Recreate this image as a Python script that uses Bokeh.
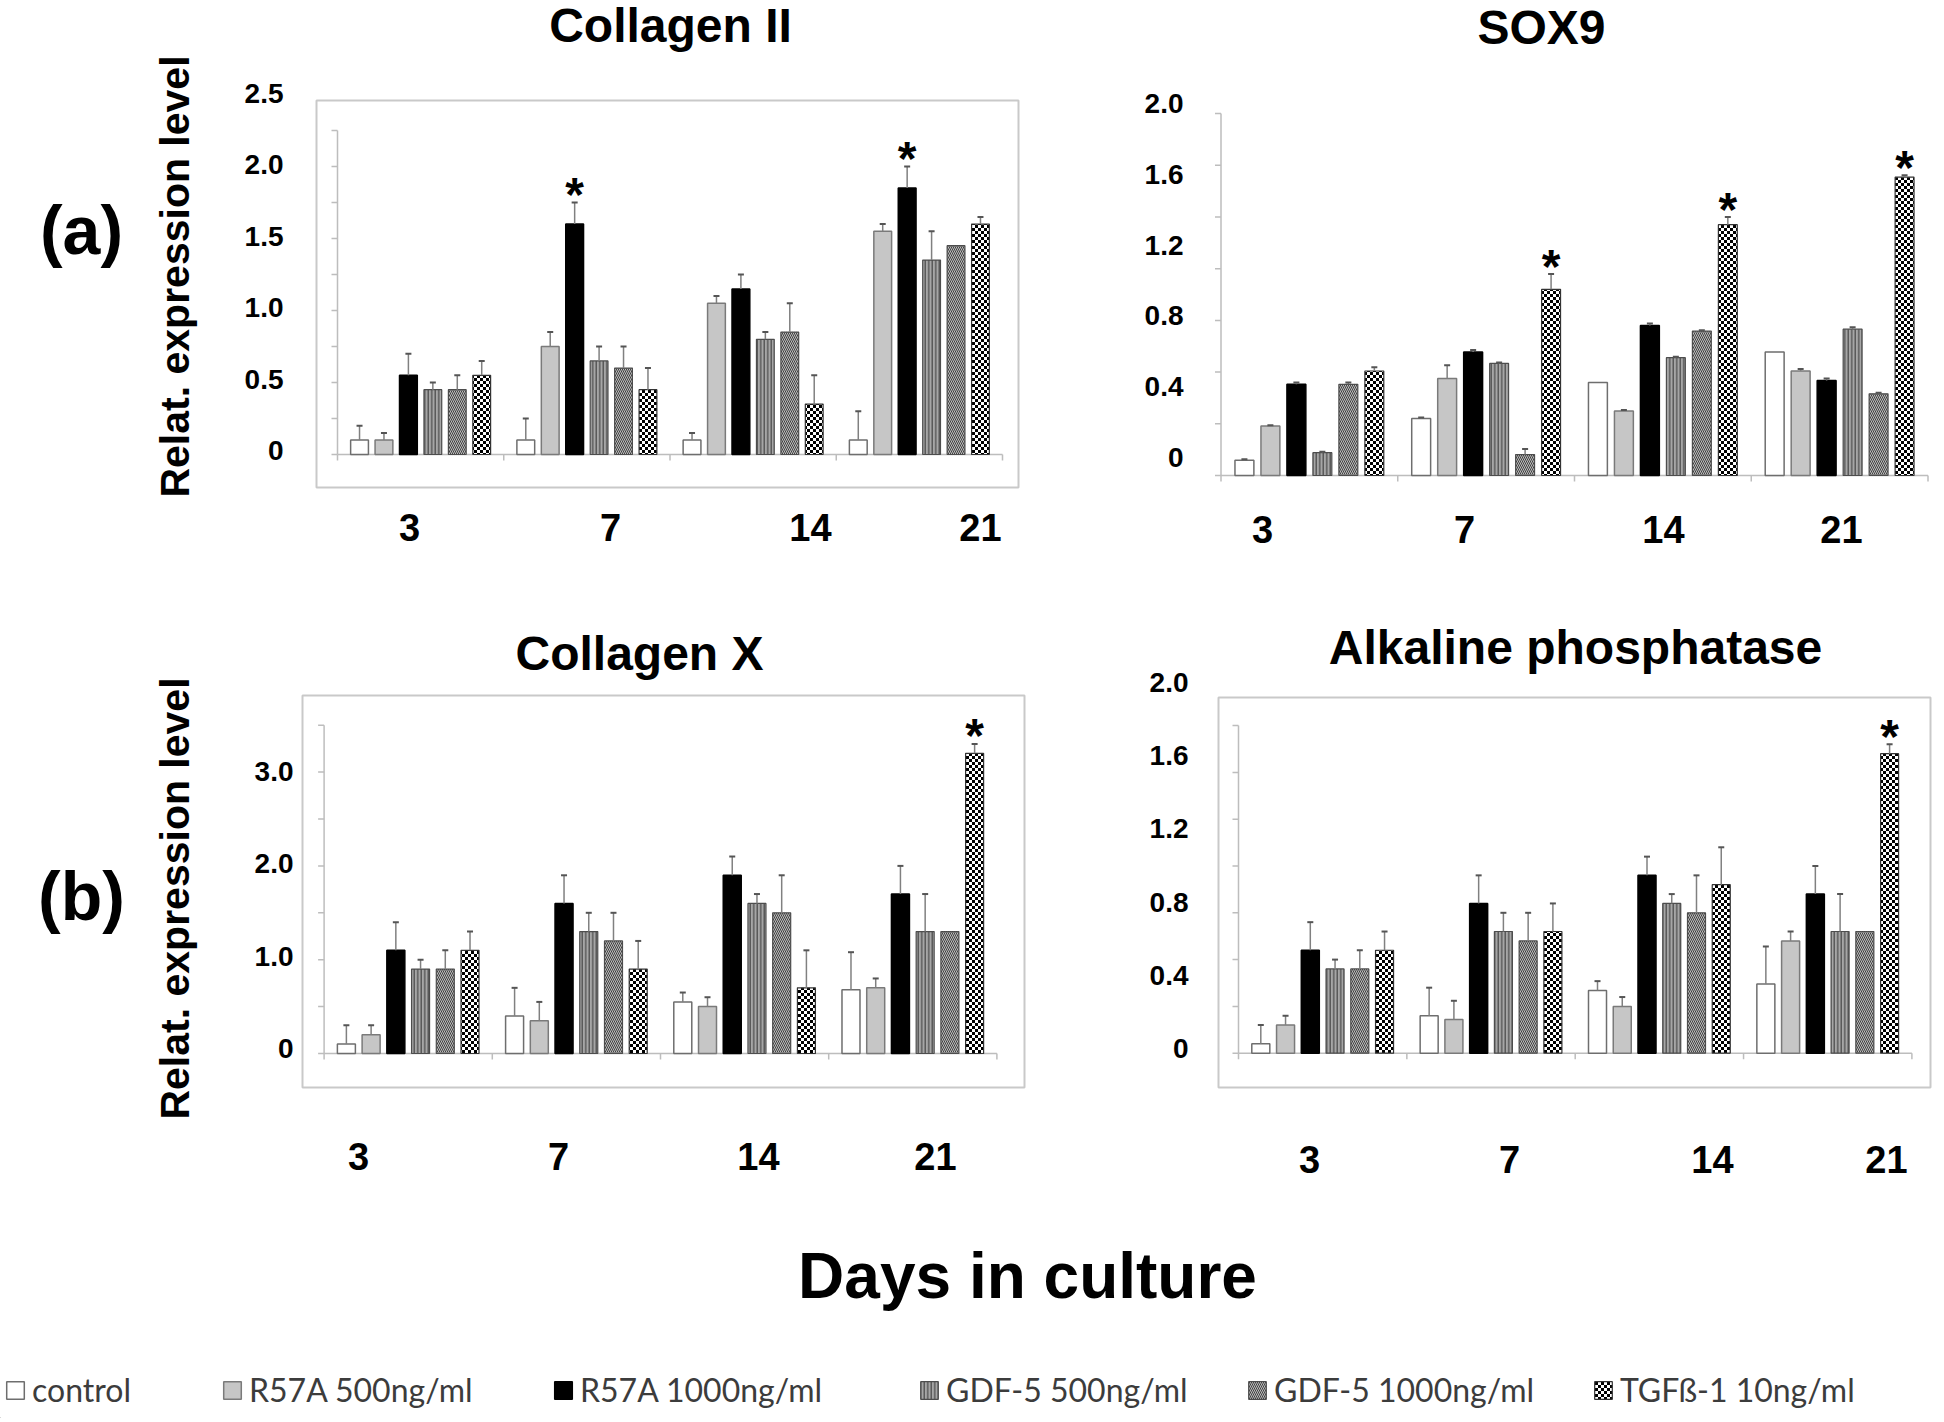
import base64
import numpy as np
from bokeh.plotting import figure
from bokeh.models import (Range1d, LinearAxis, FixedTicker, PrintfTickFormatter,
                          ColumnDataSource, Legend, LegendItem, ImageURLTexture)
from bokeh.layouts import row, column
from bokeh.embed import file_html
from bokeh.resources import INLINE
from bokeh.core.properties import value

# ---------------- data ----------------
DAYS = ["3", "7", "14", "21"]
TREATMENTS = ["control", "R57A 500ng/ml", "R57A 1000ng/ml",
              "GDF-5 500ng/ml", "GDF-5 1000ng/ml", "TGFß-1 10ng/ml"]

# rows = treatments, columns = days
COL2_MEAN = [[0.10, 0.10, 0.10, 0.10],
             [0.10, 0.75, 1.05, 1.55],
             [0.55, 1.60, 1.15, 1.85],
             [0.45, 0.65, 0.80, 1.35],
             [0.45, 0.60, 0.85, 1.45],
             [0.55, 0.45, 0.35, 1.60]]
COL2_ERR = [[0.10, 0.15, 0.05, 0.20],
            [0.05, 0.10, 0.05, 0.05],
            [0.15, 0.15, 0.10, 0.15],
            [0.05, 0.10, 0.05, 0.20],
            [0.10, 0.15, 0.20, 0.00],
            [0.10, 0.15, 0.20, 0.05]]
COL2_STARS = [(2, 1), (2, 3)]
COL2_TICKS = [0, 0.5, 1.0, 1.5, 2.0, 2.5]

SOX9_MEAN = [[0.08, 0.30, 0.49, 0.65],
             [0.26, 0.51, 0.34, 0.55],
             [0.48, 0.65, 0.79, 0.50],
             [0.12, 0.59, 0.62, 0.77],
             [0.48, 0.11, 0.76, 0.43],
             [0.55, 0.98, 1.32, 1.57]]
SOX9_ERR = [[0.005, 0.005, 0.0, 0.0],
            [0.005, 0.07, 0.005, 0.01],
            [0.01, 0.01, 0.01, 0.01],
            [0.005, 0.005, 0.005, 0.01],
            [0.01, 0.03, 0.005, 0.005],
            [0.02, 0.08, 0.04, 0.01]]
SOX9_STARS = [(5, 1), (5, 2), (5, 3)]
SOX9_TICKS = [0, 0.4, 0.8, 1.2, 1.6, 2.0]

COLX_MEAN = [[0.10, 0.40, 0.55, 0.68],
             [0.20, 0.35, 0.50, 0.70],
             [1.10, 1.60, 1.90, 1.70],
             [0.90, 1.30, 1.60, 1.30],
             [0.90, 1.20, 1.50, 1.30],
             [1.10, 0.90, 0.70, 3.20]]
COLX_ERR = [[0.20, 0.30, 0.10, 0.40],
            [0.10, 0.20, 0.10, 0.10],
            [0.30, 0.30, 0.20, 0.30],
            [0.10, 0.20, 0.10, 0.40],
            [0.20, 0.30, 0.40, 0.00],
            [0.20, 0.30, 0.40, 0.10]]
COLX_STARS = [(5, 3)]
COLX_TICKS = [0, 1.0, 2.0, 3.0]

ALP_MEAN = [[0.05, 0.20, 0.335, 0.37],
            [0.15, 0.18, 0.25, 0.60],
            [0.55, 0.80, 0.95, 0.85],
            [0.45, 0.65, 0.80, 0.65],
            [0.45, 0.60, 0.75, 0.65],
            [0.55, 0.65, 0.90, 1.60]]
ALP_ERR = [[0.10, 0.15, 0.05, 0.20],
           [0.05, 0.10, 0.05, 0.05],
           [0.15, 0.15, 0.10, 0.15],
           [0.05, 0.10, 0.05, 0.20],
           [0.10, 0.15, 0.20, 0.00],
           [0.10, 0.15, 0.20, 0.05]]
ALP_STARS = [(5, 3)]
ALP_TICKS = [0, 0.4, 0.8, 1.2, 1.6, 2.0]

# ---------------- layout (page pixels) ----------------
ROW1_FB = 500
ROW2_FB = 1125
LAY = {
    "col2": dict(x0=240, y0=0, w=860, h=588, fl=312, fr=1022, ft=0, fb=ROW1_FB,
                 ax_l=337, ax_r=1002, base=454, ppu=144.0, top=2.25, nt=9,
                 lab0=450, labtop=93, lab_right=283, xlab=[409, 610, 810, 980], xlab_y=527,
                 box=(316, 1018, 100, 487), title="Collagen II", title_xy=(670, 25)),
    "sox9": dict(x0=1100, y0=0, w=840, h=588, fl=1200, fr=1940, ft=0, fb=ROW1_FB,
                 ax_l=1220.5, ax_r=1927.5, base=475, ppu=190.0, top=1.905, nt=7,
                 lab0=457, labtop=103, lab_right=1183, xlab=[1262, 1464, 1663, 1841], xlab_y=529,
                 box=None, title="SOX9", title_xy=(1541, 27)),
    "colx": dict(x0=240, y0=588, w=860, h=612, fl=299, fr=1027, ft=588, fb=ROW2_FB,
                 ax_l=323.6, ax_r=996.4, base=1053, ppu=93.8, top=3.5, nt=7,
                 lab0=1048, labtop=771, lab_right=293, xlab=[358, 558, 758, 935], xlab_y=1156,
                 box=(302, 1024, 695, 1087), title="Collagen X", title_xy=(639, 653)),
    "alp": dict(x0=1100, y0=588, w=840, h=612, fl=1214, fr=1934, ft=588, fb=ROW2_FB,
                ax_l=1238, ax_r=1911.4, base=1052.7, ppu=187.2, top=1.75, nt=7,
                lab0=1048, labtop=682, lab_right=1188, xlab=[1309, 1509, 1712, 1886], xlab_y=1159,
                box=(1218, 1930, 697, 1087), title="Alkaline phosphatase", title_xy=(1575, 647)),
}
LEGEND_X = [4, 221, 552, 918, 1246, 1592]   # left edge of each legend entry
LEGEND_Y = 9

FONT = "Liberation Sans"
PITCH = 0.147
BAR_W = 0.107
AXIS_C = "#bdbdbd"
BOX_C = "#c9c9c9"

_svg = ("<svg xmlns='http://www.w3.org/2000/svg' width='6' height='6'>"
        "<rect width='6' height='6' fill='white'/>"
        "<rect width='3' height='3' fill='black'/>"
        "<rect x='3' y='3' width='3' height='3' fill='black'/></svg>")
CHECKER = ImageURLTexture(url="data:image/svg+xml;base64," + base64.b64encode(_svg.encode()).decode())

STYLES = [
    dict(fill_color="white", line_color="#6e6e6e", line_width=1.5),
    dict(fill_color="#c6c6c6", line_color="#7a7a7a", line_width=1.5),
    dict(fill_color="black", line_color="black", line_width=1.5),
    dict(fill_color="#a6a6a6", line_color="#4d4d4d", line_width=1.2,
         hatch_pattern="vertical_line", hatch_color="#474747", hatch_scale=3.5, hatch_weight=1.2),
    dict(fill_color="#bdbdbd", line_color="#4d4d4d", line_width=1.2,
         hatch_pattern="left_diagonal_line", hatch_color="#404040", hatch_scale=4.0, hatch_weight=1.0),
    dict(fill_color="white", line_color="#333333", line_width=1.2,
         hatch_pattern="hatch", hatch_extra={"checker": CHECKER}),
]


def make_panel(g, means, errs, stars, ticks):
    n = len(DAYS)
    gw = (g["ax_r"] - g["ax_l"]) / n
    ppu = g["ppu"]

    def dx(px):
        return (px - g["ax_l"]) / gw

    def dy(py):
        return (g["base"] - py) / ppu

    p = figure(width=g["w"], height=g["h"],
               x_range=Range1d(dx(g["fl"]), dx(g["fr"])),
               y_range=Range1d(dy(g["fb"]), dy(g["ft"])),
               x_axis_type=None, y_axis_type=None,
               output_backend="svg", toolbar_location=None,
               min_border_left=int(g["fl"] - g["x0"]),
               min_border_right=int(g["x0"] + g["w"] - g["fr"]),
               min_border_top=int(g["ft"] - g["y0"]),
               min_border_bottom=int(g["y0"] + g["h"] - g["fb"]))
    p.outline_line_color = None
    p.background_fill_color = "white"
    p.border_fill_color = "white"

    # label axis (left)
    lp = (g["lab0"] - g["labtop"]) / ticks[-1]
    p.extra_y_ranges = {"lab": Range1d((g["lab0"] - g["fb"]) / lp, (g["lab0"] - g["ft"]) / lp)}
    yax = LinearAxis(y_range_name="lab", ticker=FixedTicker(ticks=ticks),
                     formatter=PrintfTickFormatter(format="%.1f"),
                     major_label_overrides={0: "0"},
                     axis_line_color=None, major_tick_line_color=None, minor_tick_line_color=None,
                     major_tick_out=0, major_tick_in=0, minor_tick_out=0, minor_tick_in=0,
                     major_label_standoff=int(g["fl"] - g["lab_right"]),
                     major_label_text_font=FONT, major_label_text_font_style="bold",
                     major_label_text_font_size="28px", major_label_text_color="black")
    p.add_layout(yax, "left")

    # day labels (below)
    xt = [round(dx(v), 4) for v in g["xlab"]]
    xax = LinearAxis(ticker=FixedTicker(ticks=xt),
                     major_label_overrides={t: d for t, d in zip(xt, DAYS)},
                     axis_line_color=None, major_tick_line_color=None, minor_tick_line_color=None,
                     major_tick_out=0, major_tick_in=0, minor_tick_out=0, minor_tick_in=0,
                     major_label_standoff=int(g["xlab_y"] - g["fb"] - 14),
                     major_label_text_font=FONT, major_label_text_font_style="bold",
                     major_label_text_font_size="38px", major_label_text_color="black")
    p.add_layout(xax, "below")

    # chart border box
    if g["box"] is not None:
        bl, br, bt, bb = g["box"]
        p.quad(left=[dx(bl)], right=[dx(br)], top=[dy(bt)], bottom=[dy(bb)],
               fill_color=None, line_color=BOX_C, line_width=2)

    # thin value axis + category axis
    yt = np.linspace(0, g["top"], g["nt"] + 1)
    p.segment(x0=[0], y0=[0], x1=[0], y1=[g["top"]], line_color=AXIS_C, line_width=1.5)
    p.segment(x0=np.full(len(yt), -6 / gw), y0=yt, x1=np.zeros(len(yt)), y1=yt,
              line_color=AXIS_C, line_width=1.5)
    p.segment(x0=[0], y0=[0], x1=[n], y1=[0], line_color=AXIS_C, line_width=1.5)
    xb = np.arange(n + 1)
    p.segment(x0=xb, y0=np.zeros(n + 1), x1=xb, y1=np.full(n + 1, -6 / ppu),
              line_color=AXIS_C, line_width=1.5)

    # bars
    for i, st in enumerate(STYLES):
        xs = np.arange(n) + 0.5 + (i - 2.5) * PITCH
        src = ColumnDataSource(dict(x=xs, top=means[i], hatch=["checker"] * n))
        p.vbar(x="x", top="top", width=BAR_W, bottom=0, source=src, **st)

    # error bars (upper half only)
    ex, ey0, ey1 = [], [], []
    for i in range(len(TREATMENTS)):
        for j in range(n):
            if errs[i][j] > 0:
                ex.append(j + 0.5 + (i - 2.5) * PITCH)
                ey0.append(means[i][j])
                ey1.append(means[i][j] + errs[i][j])
    p.segment(x0=ex, y0=ey0, x1=ex, y1=ey1, line_color="#808080", line_width=1.5)
    p.scatter(x=ex, y=ey1, marker="dash", size=6, line_color="#555555", line_width=2)

    # significance stars
    sx = [j + 0.5 + (i - 2.5) * PITCH for i, j in stars]
    sy = [means[i][j] + errs[i][j] for i, j in stars]
    p.text(x=sx, y=sy, text=["*"] * len(sx), text_align="center", text_baseline="alphabetic",
           y_offset=-8, text_font=value(FONT), text_font_style="bold", text_font_size="48px",
           text_color="black")

    # panel title
    tx, ty = g["title_xy"]
    p.text(x=[dx(tx)], y=[dy(ty)], text=[g["title"]], text_align="center", text_baseline="middle",
           text_font=value(FONT), text_font_style="bold", text_font_size="48px", text_color="black")
    return p


def text_fig(x0, y0, w, h, ft, fb):
    # pixel canvas whose frame spans page rows ft..fb: x = page x, y = -(page y)
    p = figure(width=w, height=h, x_range=Range1d(x0, x0 + w), y_range=Range1d(-fb, -ft),
               x_axis_type=None, y_axis_type=None, output_backend="svg", toolbar_location=None,
               min_border=0, min_border_left=0, min_border_right=0,
               min_border_top=int(ft - y0), min_border_bottom=int(y0 + h - fb))
    p.outline_line_color = None
    p.background_fill_color = "white"
    p.border_fill_color = "white"
    return p


def side_fig(x0, y0, w, h, ft, fb, tag, tag_xy, ylab_xy):
    p = text_fig(x0, y0, w, h, ft, fb)
    p.text(x=[tag_xy[0]], y=[-tag_xy[1]], text=[tag], text_align="center", text_baseline="middle",
           text_font=value(FONT), text_font_style="bold", text_font_size="68px", text_color="black")
    p.text(x=[ylab_xy[0]], y=[-ylab_xy[1]], text=["Relat. expression level"], angle=np.pi / 2,
           text_align="center", text_baseline="middle",
           text_font=value(FONT), text_font_style="bold", text_font_size="41px", text_color="black")
    return p


side_a = side_fig(0, 0, 240, 588, 0, ROW1_FB, "(a)", (81, 229), (174, 276))
side_b = side_fig(0, 588, 240, 612, 588, ROW2_FB, "(b)", (81, 895), (174, 898))
p_col2 = make_panel(LAY["col2"], COL2_MEAN, COL2_ERR, COL2_STARS, COL2_TICKS)
p_sox9 = make_panel(LAY["sox9"], SOX9_MEAN, SOX9_ERR, SOX9_STARS, SOX9_TICKS)
p_colx = make_panel(LAY["colx"], COLX_MEAN, COLX_ERR, COLX_STARS, COLX_TICKS)
p_alp = make_panel(LAY["alp"], ALP_MEAN, ALP_ERR, ALP_STARS, ALP_TICKS)

# bottom: x title and legend
pb = text_fig(0, 1200, 1940, 218, 1200, 1418)
pb.text(x=[1027], y=[-1275], text=["Days in culture"], text_align="center", text_baseline="middle",
        text_font=value(FONT), text_font_style="bold", text_font_size="64px", text_color="black")
for i, st in enumerate(STYLES):
    src = ColumnDataSource(dict(x=[-1e5], top=[-1e5], hatch=["checker"]))
    r = pb.vbar(x="x", top="top", width=1, bottom=-1e5 - 1, source=src, **st)
    leg = Legend(items=[LegendItem(label=value(TREATMENTS[i]), renderers=[r], index=0)],
                 orientation="horizontal", location=(LEGEND_X[i], LEGEND_Y),
                 glyph_width=22, glyph_height=22, label_standoff=6, padding=0, margin=0,
                 border_line_color=None, background_fill_alpha=0,
                 label_text_font="Lato", label_text_font_size="32px", label_text_color="#3c3c3c")
    pb.add_layout(leg)

layout = column(row(side_a, p_col2, p_sox9), row(side_b, p_colx, p_alp), pb)
open("out.html", "w").write(file_html(layout, INLINE))
